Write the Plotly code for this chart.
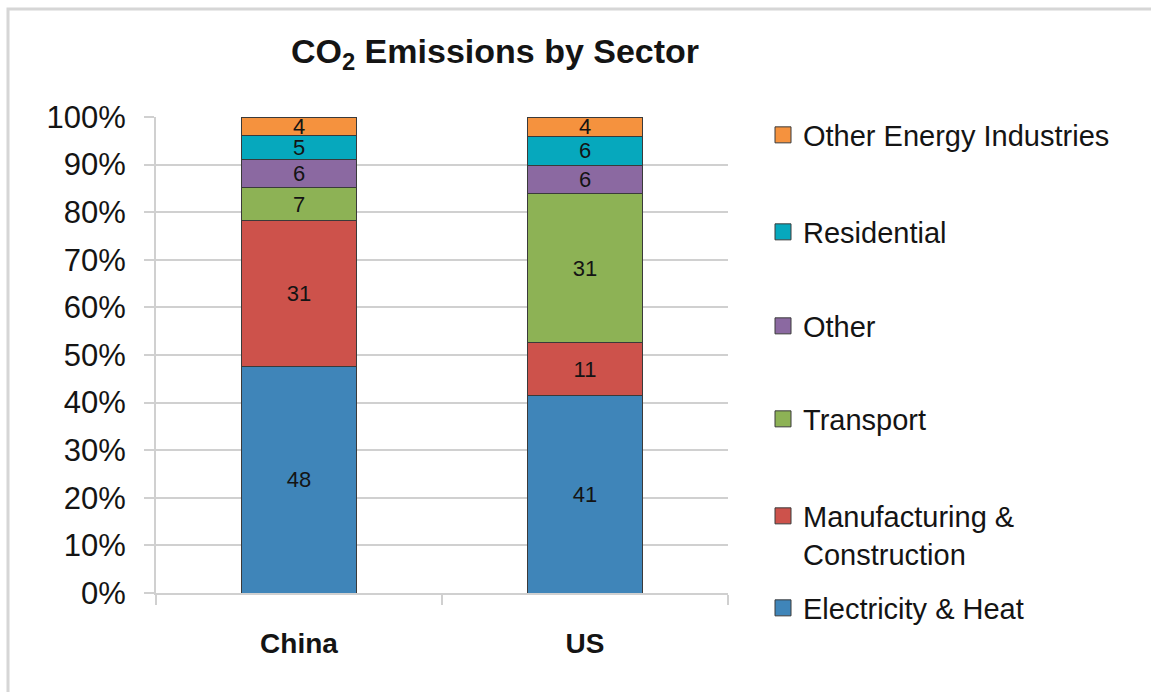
import plotly.graph_objects as go

# ---- data -------------------------------------------------------------
countries = ["China", "US"]
sectors = [
    "Electricity & Heat",
    "Manufacturing &<br>Construction",
    "Transport",
    "Other",
    "Residential",
    "Other Energy Industries",
]
china_share = [48, 31, 7, 6, 5, 4]
us_share = [41, 11, 31, 6, 6, 4]
y_ticks = [0, 10, 20, 30, 40, 50, 60, 70, 80, 90, 100]
y_tick_labels = ["0%", "10%", "20%", "30%", "40%", "50%",
                 "60%", "70%", "80%", "90%", "100%"]

# ---- styling ------------------------------------------------------------
colors = ["#3F85B9", "#CD524B", "#8DB255", "#8B69A1", "#06A8BD", "#F5923E"]
FONT = "Liberation Sans, Arial, sans-serif"
INK = "#141414"
GRID = "#d0d0d0"

W, H = 1151, 692
L, R, T, B = 156, 423, 117, 99          # plot area 156..728 x 117..593
plot_w, plot_h = W - L - R, H - T - B

def px_to_paper_y(y):
    return (H - B - y) / plot_h

def px_to_paper_x(x):
    return (x - L) / plot_w

# legend entry vertical centres (pixels), one legend per sector
legend_centres = [608, 535, 419, 326, 232, 135]
legend_left_px = 763

fig = go.Figure()

for i, name in enumerate(sectors):
    vals = [china_share[i], us_share[i]]
    fig.add_trace(go.Bar(
        x=countries,
        y=vals,
        name=name,
        text=[str(v) for v in vals],
        textposition="inside",
        insidetextanchor="middle",
        textangle=0,
        constraintext="none",
        textfont=dict(family=FONT, size=22, color=INK),
        marker=dict(color=colors[i], line=dict(color="#3a3a3a", width=1)),
        showlegend=False,
        hoverinfo="skip",
    ))

# legend swatches (larger square keys than the default bar symbol)
for i, name in enumerate(sectors):
    lg = "legend" if i == 0 else f"legend{i + 1}"
    fig.add_trace(go.Scatter(
        x=[None], y=[None],
        mode="markers",
        name=name,
        marker=dict(symbol="square", size=16, color=colors[i],
                    line=dict(color="#3a3a3a", width=1)),
        legend=lg,
        showlegend=True,
    ))

legend_style = dict(
    font=dict(family=FONT, size=29, color=INK),
    bgcolor="rgba(0,0,0,0)",
    borderwidth=0,
    xanchor="left",
    yanchor="middle",
    valign="top",
    itemclick=False,
    itemdoubleclick=False,
)
legend_layout = {}
for i, yc in enumerate(legend_centres):
    key = "legend" if i == 0 else f"legend{i + 1}"
    legend_layout[key] = dict(legend_style,
                              x=px_to_paper_x(legend_left_px),
                              y=px_to_paper_y(yc))

fig.update_layout(
    width=W, height=H,
    margin=dict(l=L, r=R, t=T, b=B, autoexpand=False),
    paper_bgcolor="white",
    plot_bgcolor="white",
    barmode="stack",
    barnorm="percent",
    bargap=0.6,
    title=dict(
        text="CO<sub>2</sub> Emissions by Sector",
        font=dict(family=FONT, size=34, color=INK, weight="bold"),
        x=495 / W, xref="container", xanchor="center",
        y=1 - 51 / H, yref="container", yanchor="middle",
    ),
    xaxis=dict(
        type="category",
        categoryorder="array",
        categoryarray=countries,
        showline=True, linecolor=GRID, linewidth=2,
        ticks="outside", tickson="boundaries", ticklen=10,
        tickcolor=GRID, tickwidth=2,
        showgrid=False,
        tickfont=dict(family=FONT, size=28, color=INK, weight="bold"),
        ticklabelstandoff=24,
    ),
    yaxis=dict(
        range=[0, 100],
        tickmode="array",
        tickvals=y_ticks,
        ticktext=y_tick_labels,
        showline=True, linecolor=GRID, linewidth=2,
        ticks="outside", ticklen=10, tickcolor=GRID, tickwidth=2,
        showgrid=True, gridcolor=GRID, gridwidth=2,
        zeroline=False,
        tickfont=dict(family=FONT, size=31, color=INK),
        ticklabelstandoff=12,
    ),
    shapes=[dict(
        type="rect", xref="paper", yref="paper",
        x0=px_to_paper_x(8), x1=px_to_paper_x(W + 20),
        y0=px_to_paper_y(H + 20), y1=px_to_paper_y(9),
        line=dict(color="#d6d6d6", width=3),
        fillcolor="rgba(0,0,0,0)",
        layer="below",
    )],
    **legend_layout,
)

fig.write_html("out.html")
